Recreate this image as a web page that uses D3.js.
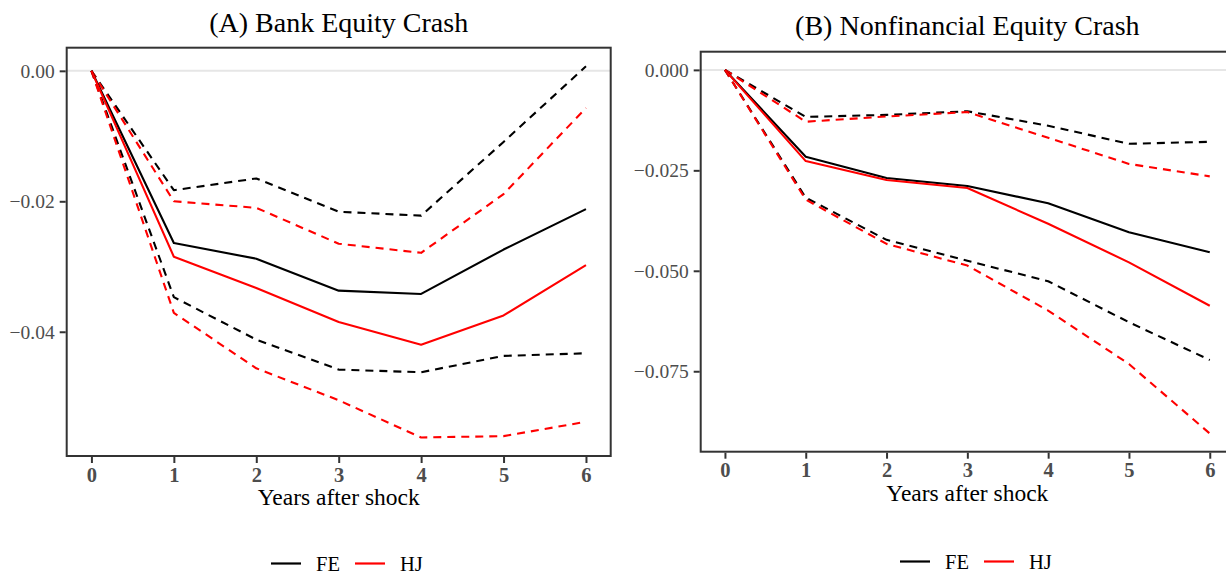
<!DOCTYPE html>
<html>
<head>
<meta charset="utf-8">
<script src="https://cdn.jsdelivr.net/npm/d3@7"></script>
<style>
  html, body { margin: 0; padding: 0; background: #fff; }
  svg { display: block; }
</style>
</head>
<body>
<svg id="chart" width="1226" height="573"></svg>
<script>
// ---------- DATA ----------
const years = [0, 1, 2, 3, 4, 5, 6];

// Panel A: Bank Equity Crash
const bankFE     = [0, -0.0264, -0.0288, -0.0337, -0.0342, -0.0274, -0.0212];
const bankFELo   = [0, -0.0347, -0.0412, -0.0458, -0.0462, -0.0437, -0.0433];
const bankFEHi   = [0, -0.0183, -0.0165, -0.0216, -0.0222, -0.0109, 0.0007];
const bankHJ     = [0, -0.0285, -0.0333, -0.0385, -0.0420, -0.0375, -0.0298];
const bankHJLo   = [0, -0.0371, -0.0456, -0.0505, -0.0562, -0.0560, -0.0538];
const bankHJHi   = [0, -0.0200, -0.0210, -0.0265, -0.0279, -0.0189, -0.0057];

// Panel B: Nonfinancial Equity Crash
const nonfinFE   = [0, -0.0216, -0.0269, -0.0289, -0.0332, -0.0404, -0.0454];
const nonfinFELo = [0, -0.0318, -0.0423, -0.0475, -0.0526, -0.0628, -0.0722];
const nonfinFEHi = [0, -0.0117, -0.0112, -0.0103, -0.0139, -0.0184, -0.0179];
const nonfinHJ   = [0, -0.0227, -0.0274, -0.0294, -0.0383, -0.0479, -0.0587];
const nonfinHJLo = [0, -0.0323, -0.0433, -0.0487, -0.0599, -0.0732, -0.0905];
const nonfinHJHi = [0, -0.0129, -0.0116, -0.0105, -0.0169, -0.0234, -0.0265];

const bankYTicks   = [0, -0.02, -0.04];
const nonfinYTicks = [0, -0.025, -0.05, -0.075];
const xTicks = [0, 1, 2, 3, 4, 5, 6];

const panelTitles = ["(A) Bank Equity Crash", "(B) Nonfinancial Equity Crash"];
const xAxisTitle = "Years after shock";
const seriesNames = ["FE", "HJ"];
const seriesColors = ["#000000", "#ff0000"];

// ---------- DRAW ----------
const svg = d3.select("#chart");
const FONT = "'Liberation Serif', 'Times New Roman', 'DejaVu Serif', serif";

function fmtMinus(s) { return s.replace("-", "\u2212"); }

function drawPanel(cfg) {
  const g = svg.append("g");
  const allVals = cfg.series.flatMap(s => s.values);
  const lo = d3.min(allVals), hi = d3.max(allVals);
  const pad = (hi - lo) * 0.05;
  const x = d3.scaleLinear().domain([-0.3, 6.3]).range([cfg.x0, cfg.x1]);
  const y = d3.scaleLinear().domain([lo - pad, hi + pad]).range([cfg.y1, cfg.y0]);

  const clipId = "clip" + cfg.id;
  svg.append("clipPath").attr("id", clipId)
    .append("rect").attr("x", cfg.x0).attr("y", cfg.y0)
    .attr("width", cfg.x1 - cfg.x0).attr("height", cfg.y1 - cfg.y0);

  g.append("line")
    .attr("x1", cfg.x0).attr("x2", cfg.x1)
    .attr("y1", y(0)).attr("y2", y(0))
    .attr("stroke", "#e6e6e6").attr("stroke-width", 2);

  const line = d3.line().x((d, i) => x(years[i])).y(d => y(d));
  const lines = g.append("g").attr("clip-path", `url(#${clipId})`);
  cfg.series.forEach(s => {
    lines.append("path")
      .datum(s.values)
      .attr("d", line)
      .attr("fill", "none")
      .attr("stroke", s.color)
      .attr("stroke-width", 2.1)
      .attr("stroke-linejoin", "round")
      .attr("stroke-dasharray", s.dashed ? "8,6" : null);
  });

  g.append("rect")
    .attr("x", cfg.x0).attr("y", cfg.y0)
    .attr("width", cfg.x1 - cfg.x0).attr("height", cfg.y1 - cfg.y0)
    .attr("fill", "none").attr("stroke", "#333333").attr("stroke-width", 2);

  const yAxis = d3.axisLeft(y).tickValues(cfg.yTicks).tickSize(6).tickPadding(5)
    .tickFormat(d => fmtMinus(d3.format(cfg.yFmt)(d)));
  const ya = g.append("g").attr("transform", `translate(${cfg.x0 - 1},0)`).call(yAxis);
  ya.select(".domain").remove();
  ya.selectAll(".tick line").attr("stroke", "#333333").attr("stroke-width", 2);
  ya.selectAll(".tick text").attr("fill", "#4d4d4d")
    .style("font-family", FONT).style("font-size", "19.5px");

  const xAxis = d3.axisBottom(x).tickValues(xTicks).tickSize(6).tickPadding(4)
    .tickFormat(d3.format("d"));
  const xa = g.append("g").attr("transform", `translate(0,${cfg.y1 + 1})`).call(xAxis);
  xa.select(".domain").remove();
  xa.selectAll(".tick line").attr("stroke", "#333333").attr("stroke-width", 2);
  xa.selectAll(".tick text").attr("fill", "#4d4d4d")
    .style("font-family", FONT).style("font-size", "20.5px").style("font-weight", "bold");

  const cx = (cfg.x0 + cfg.x1) / 2;
  g.append("text").attr("x", cx).attr("y", cfg.titleY)
    .attr("text-anchor", "middle").style("font-family", FONT).style("font-size", "28px")
    .attr("fill", "#000").text(cfg.title);
  g.append("text").attr("x", cx).attr("y", cfg.y1 + 49)
    .attr("text-anchor", "middle").style("font-family", FONT).style("font-size", "23.5px")
    .attr("fill", "#000").text(xAxisTitle);

  const lg = g.append("g").attr("transform", `translate(${cfg.legX},${cfg.legY})`);
  seriesNames.forEach((name, i) => {
    const ox = i * 84;
    lg.append("line").attr("x1", ox).attr("x2", ox + 30).attr("y1", 0).attr("y2", 0)
      .attr("stroke", seriesColors[i]).attr("stroke-width", 2.2);
    lg.append("text").attr("x", ox + 45).attr("y", 7)
      .style("font-family", FONT).style("font-size", "20.5px").attr("fill", "#000")
      .text(name);
  });
}

drawPanel({
  id: "A",
  x0: 66.7, x1: 610.7, y0: 47.7, y1: 456,
  titleY: 31.5,
  title: panelTitles[0],
  yTicks: bankYTicks, yFmt: ".2f",
  legX: 271, legY: 563.5,
  series: [
    { values: bankFELo, color: seriesColors[0], dashed: true },
    { values: bankFEHi, color: seriesColors[0], dashed: true },
    { values: bankHJLo, color: seriesColors[1], dashed: true },
    { values: bankHJHi, color: seriesColors[1], dashed: true },
    { values: bankFE, color: seriesColors[0], dashed: false },
    { values: bankHJ, color: seriesColors[1], dashed: false }
  ]
});

drawPanel({
  id: "B",
  x0: 700.7, x1: 1234, y0: 51.7, y1: 451.7,
  titleY: 34.5,
  title: panelTitles[1],
  yTicks: nonfinYTicks, yFmt: ".3f",
  legX: 900, legY: 561.5,
  series: [
    { values: nonfinFELo, color: seriesColors[0], dashed: true },
    { values: nonfinFEHi, color: seriesColors[0], dashed: true },
    { values: nonfinHJLo, color: seriesColors[1], dashed: true },
    { values: nonfinHJHi, color: seriesColors[1], dashed: true },
    { values: nonfinFE, color: seriesColors[0], dashed: false },
    { values: nonfinHJ, color: seriesColors[1], dashed: false }
  ]
});
</script>
</body>
</html>
